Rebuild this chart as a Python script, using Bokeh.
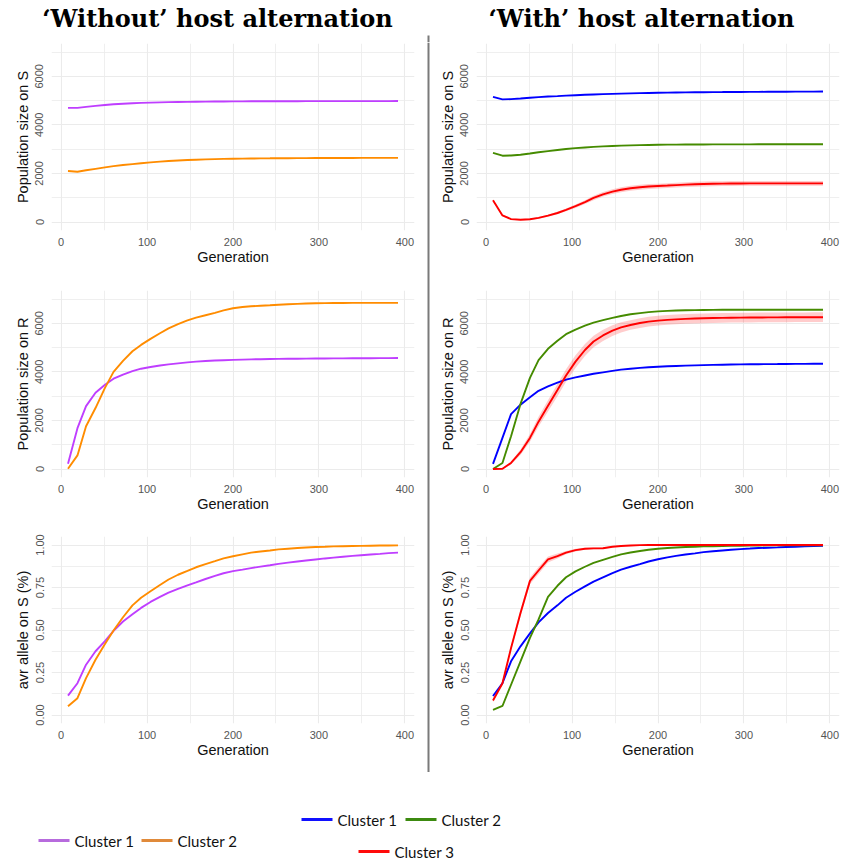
from bokeh.plotting import figure
from bokeh.layouts import column, row
from bokeh.models import Range1d, FixedTicker, PrintfTickFormatter
from bokeh.core.properties import value
from bokeh.embed import file_html
from bokeh.resources import INLINE

# ---------------- data ----------------
gen = [8, 19, 29, 40, 51, 61, 72, 83, 93, 104,
       115, 125, 136, 147, 157, 168, 179, 189, 200, 211,
       221, 232, 243, 253, 264, 275, 285, 296, 307, 317,
       328, 339, 349, 360, 371, 381, 392]

titles = ["\u2018Without\u2019 host alternation", "\u2018With\u2019 host alternation"]
clusters_wo = ["Cluster 1", "Cluster 2"]
clusters_w = ["Cluster 1", "Cluster 2", "Cluster 3"]
ylabels = ["Population size on S", "Population size on R", "avr allele on S (%)"]
xlabel = "Generation"
x_ticks = [0, 100, 200, 300, 400]
x_minor = [50, 150, 250, 350]
pop_ticks = [0, 2000, 4000, 6000]
pop_minor = [1000, 3000, 5000, 7000]
avr_ticks = [0, 0.25, 0.5, 0.75, 1.0]
avr_minor = [0.125, 0.375, 0.625, 0.875]

# Population on S, without alternation
S_wo_c1 = [4700, 4700, 4740, 4780, 4820, 4850, 4870, 4890, 4905, 4915,
           4925, 4935, 4942, 4948, 4952, 4956, 4960, 4963, 4965, 4967,
           4969, 4970, 4972, 4973, 4974, 4975, 4976, 4976, 4977, 4977,
           4978, 4978, 4978, 4979, 4979, 4979, 4980]
S_wo_c2 = [2100, 2070, 2130, 2190, 2250, 2300, 2345, 2385, 2420, 2455,
           2485, 2510, 2530, 2550, 2565, 2578, 2590, 2598, 2605, 2610,
           2615, 2620, 2623, 2626, 2628, 2630, 2632, 2634, 2635, 2636,
           2637, 2638, 2639, 2640, 2640, 2640, 2640]
# Population on S, with alternation
S_w_c1 = [5150, 5050, 5060, 5085, 5115, 5140, 5165, 5185, 5205, 5222,
          5238, 5252, 5265, 5277, 5288, 5297, 5306, 5314, 5320, 5326,
          5331, 5336, 5340, 5344, 5347, 5350, 5353, 5355, 5357, 5359,
          5361, 5363, 5365, 5367, 5368, 5370, 5372]
S_w_c2 = [2850, 2730, 2740, 2770, 2820, 2870, 2920, 2965, 3005, 3040,
          3070, 3095, 3115, 3132, 3145, 3157, 3166, 3173, 3180, 3184,
          3188, 3190, 3192, 3194, 3195, 3196, 3197, 3198, 3198, 3199,
          3199, 3200, 3200, 3200, 3200, 3200, 3200]
S_w_c3 = [900, 270, 120, 95, 115, 170, 260, 370, 500, 650,
          820, 990, 1140, 1250, 1330, 1390, 1430, 1460, 1480, 1500,
          1520, 1540, 1555, 1565, 1575, 1580, 1585, 1588, 1590, 1590,
          1590, 1590, 1590, 1590, 1590, 1590, 1590]
S_w_c3_sd = [30, 30, 25, 25, 30, 35, 40, 50, 60, 70,
             80, 90, 95, 100, 100, 100, 100, 100, 100, 100,
             100, 100, 100, 100, 100, 100, 100, 100, 100, 100,
             100, 100, 100, 100, 100, 100, 100]

# Population on R, without alternation
R_wo_c1 = [220, 1680, 2590, 3140, 3470, 3720, 3890, 4030, 4130, 4200,
           4260, 4310, 4350, 4390, 4420, 4445, 4465, 4480, 4495, 4505,
           4515, 4522, 4528, 4533, 4538, 4542, 4546, 4549, 4552, 4554,
           4556, 4558, 4560, 4562, 4564, 4566, 4568]
R_wo_c2 = [10, 560, 1760, 2510, 3340, 4000, 4450, 4850, 5110, 5360,
           5590, 5790, 5970, 6120, 6230, 6330, 6430, 6530, 6620, 6670,
           6700, 6725, 6745, 6765, 6785, 6800, 6812, 6822, 6830, 6835,
           6838, 6840, 6840, 6840, 6840, 6840, 6840]
# Population on R, with alternation
R_w_c1 = [210, 1280, 2260, 2650, 2950, 3220, 3400, 3560, 3680, 3770,
          3850, 3920, 3980, 4040, 4090, 4130, 4165, 4190, 4210, 4228,
          4243, 4256, 4267, 4277, 4286, 4294, 4301, 4307, 4312, 4316,
          4320, 4323, 4326, 4328, 4330, 4332, 4334]
R_w_c2 = [0, 250, 1350, 2680, 3750, 4480, 4950, 5280, 5550, 5740,
          5900, 6030, 6130, 6220, 6300, 6370, 6420, 6460, 6490, 6510,
          6525, 6535, 6542, 6548, 6552, 6555, 6557, 6558, 6559, 6560,
          6560, 6560, 6560, 6560, 6560, 6560, 6560]
R_w_c3 = [0, 10, 250, 690, 1280, 1950, 2600, 3250, 3850, 4420,
          4900, 5250, 5500, 5700, 5830, 5930, 6010, 6070, 6110, 6140,
          6160, 6180, 6195, 6205, 6215, 6222, 6228, 6232, 6236, 6240,
          6242, 6244, 6246, 6248, 6249, 6250, 6250]
R_w_c3_sd = [10, 20, 60, 110, 160, 200, 230, 250, 260, 260,
             250, 240, 230, 220, 210, 200, 200, 200, 200, 200,
             200, 200, 200, 200, 200, 200, 200, 200, 200, 200,
             200, 200, 200, 200, 200, 200, 200]

# avr allele on S, without alternation
A_wo_c1 = [0.114, 0.187, 0.296, 0.375, 0.434, 0.495, 0.550, 0.592, 0.630, 0.665,
           0.695, 0.720, 0.742, 0.762, 0.780, 0.800, 0.818, 0.834, 0.846, 0.855,
           0.864, 0.873, 0.881, 0.889, 0.896, 0.903, 0.909, 0.915, 0.921, 0.926,
           0.931, 0.936, 0.940, 0.944, 0.948, 0.952, 0.955]
A_wo_c2 = [0.051, 0.099, 0.217, 0.325, 0.418, 0.497, 0.575, 0.645, 0.690, 0.728,
           0.765, 0.797, 0.825, 0.848, 0.869, 0.888, 0.905, 0.921, 0.934, 0.945,
           0.955, 0.962, 0.968, 0.974, 0.978, 0.982, 0.985, 0.988, 0.990, 0.992,
           0.993, 0.994, 0.995, 0.996, 0.997, 0.997, 0.998]
# avr allele on S, with alternation
A_w_c1 = [0.112, 0.187, 0.316, 0.404, 0.480, 0.545, 0.600, 0.645, 0.690, 0.725,
          0.757, 0.785, 0.810, 0.835, 0.855, 0.872, 0.888, 0.903, 0.916, 0.927,
          0.936, 0.944, 0.951, 0.958, 0.963, 0.968, 0.972, 0.976, 0.979, 0.982,
          0.984, 0.986, 0.988, 0.990, 0.992, 0.994, 0.995]
A_w_c2 = [0.030, 0.053, 0.178, 0.316, 0.454, 0.562, 0.695, 0.760, 0.810, 0.845,
          0.872, 0.895, 0.913, 0.930, 0.945, 0.956, 0.965, 0.972, 0.978, 0.982,
          0.985, 0.988, 0.990, 0.992, 0.993, 0.994, 0.995, 0.996, 0.997, 0.997,
          0.998, 0.998, 0.998, 0.998, 0.998, 0.998, 0.998]
A_w_c3 = [0.085, 0.187, 0.394, 0.600, 0.789, 0.850, 0.915, 0.935, 0.955, 0.970,
          0.978, 0.980, 0.981, 0.990, 0.994, 0.997, 0.999, 1.000, 1.000, 1.000,
          1.000, 1.000, 1.000, 1.000, 1.000, 1.000, 1.000, 1.000, 1.000, 1.000,
          1.000, 1.000, 1.000, 1.000, 1.000, 1.000, 1.000]
A_w_c3_sd = [0.010, 0.012, 0.015, 0.020, 0.020, 0.020, 0.018, 0.015, 0.010, 0.008,
             0.006, 0.005, 0.004, 0.003, 0.002, 0.001, 0.001, 0.001, 0.001, 0.001,
             0.001, 0.001, 0.001, 0.001, 0.001, 0.001, 0.001, 0.001, 0.001, 0.001,
             0.001, 0.001, 0.001, 0.001, 0.001, 0.001, 0.001]

# ---------------- styles ----------------
col_wo = ["#BF3EFF", "#FF8C00"]
col_w = ["#0000FF", "#458B00", "#FF0000"]
leg_col_wo = ["#B76BDD", "#E08A3A"]
leg_col_w = ["#1010FF", "#3C8A10", "#FF0A0A"]
GRID = "#EBEBEB"
SANS = "Liberation Sans"
SEP_COLOR = "#7A7A7A"


def panel(width, bl, br, height, bt, bb, ylab, yr, yt, ym, fmt):
    p = figure(width=width, height=height, output_backend="svg", toolbar_location=None,
               x_range=Range1d(-11.2, 411.2), y_range=Range1d(*yr),
               min_border_left=bl, min_border_right=br,
               min_border_top=bt, min_border_bottom=bb)
    p.outline_line_color = None
    p.xaxis.ticker = FixedTicker(ticks=x_ticks, minor_ticks=x_minor)
    p.yaxis.ticker = FixedTicker(ticks=yt, minor_ticks=ym)
    p.yaxis.formatter = PrintfTickFormatter(format=fmt)
    p.xaxis.axis_label = xlabel
    p.yaxis.axis_label = ylab
    for ax in (p.xaxis, p.yaxis):
        ax.axis_line_color = None
        ax.major_tick_line_color = None
        ax.minor_tick_line_color = None
        ax.major_label_text_font = SANS
        ax.major_label_text_font_size = "11px"
        ax.major_label_text_color = "#555555"
        ax.axis_label_text_font = SANS
        ax.axis_label_text_font_size = "14.5px"
        ax.axis_label_text_font_style = "normal"
        ax.axis_label_text_color = "#111111"
    p.xaxis.major_label_standoff = 1
    p.xaxis.axis_label_standoff = 0
    p.yaxis.major_label_standoff = 2
    p.yaxis.axis_label_standoff = 2
    p.yaxis.major_label_orientation = "vertical"
    for g in (p.xgrid, p.ygrid):
        g.grid_line_color = GRID
        g.grid_line_width = 1.1
        g.minor_grid_line_color = GRID
        g.minor_grid_line_width = 0.8
    return p


rows_geom = [(238, 1, 50), (246, 10, 49), (246, 10, 49)]
pop_r = (-350, 7350)
avr_r = (-0.05, 1.05)
axes_spec = [(pop_r, pop_ticks, pop_minor, "%d"),
             (pop_r, pop_ticks, pop_minor, "%d"),
             (avr_r, avr_ticks, avr_minor, "%.2f")]

left_series = [[S_wo_c1, S_wo_c2], [R_wo_c1, R_wo_c2], [A_wo_c1, A_wo_c2]]
right_series = [[S_w_c1, S_w_c2, S_w_c3], [R_w_c1, R_w_c2, R_w_c3], [A_w_c1, A_w_c2, A_w_c3]]
right_bands = [S_w_c3_sd, R_w_c3_sd, A_w_c3_sd]

left_figs, right_figs = [], []
for i in range(3):
    h, bt, bb = rows_geom[i]
    yr, yt, ym, fmt = axes_spec[i]
    pl = panel(424, 51, 10, h, bt, bb, ylabels[i], yr, yt, ym, fmt)
    for ys, c in zip(left_series[i], col_wo):
        pl.line(gen, ys, line_color=c, line_width=1.9)
    left_figs.append(pl)

    pr = panel(410, 44, 3, h, bt, bb, ylabels[i], yr, yt, ym, fmt)
    mean3 = right_series[i][2]
    sd3 = right_bands[i]
    pr.varea(x=gen, y1=[m - s for m, s in zip(mean3, sd3)],
             y2=[m + s for m, s in zip(mean3, sd3)],
             fill_color="#FF0000", fill_alpha=0.2)
    for ys, c in zip(right_series[i], col_w):
        pr.line(gen, ys, line_color=c, line_width=1.9)
    right_figs.append(pr)


def blank(w, h):
    f = figure(width=w, height=h, output_backend="svg", toolbar_location=None,
               x_range=Range1d(0, w), y_range=Range1d(h, 0),
               x_axis_type=None, y_axis_type=None, min_border=0)
    f.outline_line_color = None
    f.grid.visible = False
    return f


# titles (with the top stub of the separator line)
tf = blank(842, 42)
tf.segment(x0=[428], y0=[35], x1=[428], y1=[42], line_color=SEP_COLOR, line_width=2)
tf.text(x=[217, 641], y=[18, 18], text=titles, text_font=value("DejaVu Serif"),
        text_font_style="bold", text_font_size="24px", text_align="center",
        text_baseline="middle", text_color="#000000")

# separator
sep = blank(8, 730)
sep.segment(x0=[4], y0=[0], x1=[4], y1=[730], line_color=SEP_COLOR, line_width=2)

# legends
lg = blank(842, 88)
LEG_FONT = value("Lato")
lx0 = [38, 141]
ly = [68, 68]
lg.segment(x0=lx0, y0=ly, x1=[x + 31 for x in lx0], y1=ly, line_color=leg_col_wo, line_width=3)
lg.text(x=[x + 36 for x in lx0], y=ly, text=clusters_wo, text_font=LEG_FONT,
        text_font_size="15px", text_baseline="middle", text_color="#111111")
rx0 = [301, 405, 358]
ry = [47, 47, 79]
lg.segment(x0=rx0, y0=ry, x1=[x + 31 for x in rx0], y1=ry, line_color=leg_col_w, line_width=3)
lg.text(x=[x + 36 for x in rx0], y=ry, text=clusters_w, text_font=LEG_FONT,
        text_font_size="15px", text_baseline="middle", text_color="#111111")

layout = column(
    tf,
    row(column(*left_figs, spacing=0), sep, column(*right_figs, spacing=0), spacing=0),
    lg,
    spacing=0,
)

open("out.html", "w").write(file_html(layout, INLINE))
